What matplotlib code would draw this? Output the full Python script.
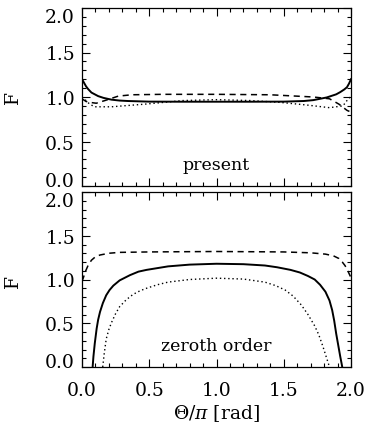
import numpy as np
import matplotlib
matplotlib.use("Agg")
import matplotlib.pyplot as plt
from matplotlib.ticker import MultipleLocator, FormatStrFormatter

plt.rcParams['font.family'] = ['DejaVu Serif']
plt.rcParams['mathtext.fontset'] = 'dejavuserif'

# ---- Data: top panel ("present") ----
top_solid_x = [0.0, 0.015, 0.03, 0.045, 0.07, 0.095, 0.12, 0.16, 0.22, 0.28, 0.34, 0.5, 0.75, 1.0,
               1.25, 1.5, 1.65, 1.72, 1.77, 1.82, 1.86, 1.89, 1.92, 1.95, 1.97, 1.985, 2.0]
top_solid_y = [1.20, 1.16, 1.12, 1.09, 1.05, 1.03, 1.01, 0.99, 0.97, 0.96, 0.955, 0.948, 0.947, 0.947,
               0.947, 0.948, 0.955, 0.965, 0.98, 0.995, 1.015, 1.03, 1.055, 1.085, 1.11, 1.15, 1.20]

top_dash_x = [0.0, 0.03, 0.057, 0.106, 0.17, 0.27, 0.37, 0.6, 1.0, 1.4, 1.72, 1.84, 1.91, 1.97, 2.0]
top_dash_y = [0.98, 0.95, 0.94, 0.93, 0.96, 1.01, 1.025, 1.03, 1.03, 1.025, 1.00, 0.98, 0.92, 0.85, 0.83]

top_dot_x = [0.0, 0.03, 0.057, 0.094, 0.22, 0.47, 0.75, 1.0, 1.25, 1.47, 1.67, 1.84, 1.94, 1.98, 2.0]
top_dot_y = [1.00, 0.96, 0.92, 0.89, 0.89, 0.92, 0.96, 0.97, 0.96, 0.94, 0.91, 0.88, 0.90, 0.98, 1.01]

# ---- Data: bottom panel ("zeroth order") ----
bot_solid_x = [0.079, 0.085, 0.095, 0.109, 0.12, 0.134, 0.155, 0.18, 0.205, 0.233, 0.28, 0.357, 0.42,
               0.48, 0.56, 0.64, 0.8, 1.0, 1.2, 1.36, 1.45, 1.55, 1.62, 1.68, 1.73, 1.77, 1.81, 1.84,
               1.86, 1.875, 1.89, 1.905, 1.92, 1.935]
bot_solid_y = [0.0, 0.12, 0.27, 0.44, 0.54, 0.63, 0.73, 0.82, 0.88, 0.93, 0.99, 1.05, 1.09,
               1.11, 1.13, 1.15, 1.17, 1.18, 1.175, 1.16, 1.14, 1.11, 1.08, 1.04, 1.00, 0.94, 0.86, 0.76,
               0.65, 0.53, 0.38, 0.25, 0.12, 0.0]

bot_dash_x = [0.0, 0.01, 0.025, 0.045, 0.07, 0.1, 0.134, 0.2, 0.28, 0.5, 1.0, 1.5, 1.7, 1.81, 1.87,
              1.91, 1.935, 1.955, 1.97, 1.985, 2.0]
bot_dash_y = [0.98, 1.02, 1.09, 1.16, 1.22, 1.26, 1.28, 1.30, 1.31, 1.315, 1.32, 1.315, 1.305, 1.29, 1.27,
              1.24, 1.20, 1.16, 1.12, 1.07, 1.02]

bot_dot_x = [0.154, 0.165, 0.18, 0.2, 0.22, 0.25, 0.28, 0.33, 0.38, 0.43, 0.48, 0.56, 0.64, 0.8, 1.0,
             1.2, 1.36, 1.44, 1.51, 1.57, 1.63, 1.68, 1.73, 1.76, 1.79, 1.815, 1.84]
bot_dot_y = [0.0, 0.15, 0.32, 0.43, 0.51, 0.61, 0.69, 0.77, 0.83, 0.87, 0.90, 0.94, 0.97, 1.00, 1.015,
             1.005, 0.97, 0.93, 0.88, 0.81, 0.71, 0.60, 0.47, 0.37, 0.24, 0.12, 0.0]

ticks = [0.0, 0.5, 1.0, 1.5, 2.0]

W, H = 369, 435
fig = plt.figure(figsize=(W / 100, H / 100), dpi=100)

def px_axes(left, top, right, bottom):
    return fig.add_axes([left / W, 1 - bottom / H, (right - left) / W, (bottom - top) / H])

ax1 = px_axes(82, 9, 351, 187)
ax2 = px_axes(82, 193, 351, 368)

lw_s, lw_d, lw_o = 1.4, 1.1, 1.0
ax1.plot(top_solid_x, top_solid_y, color='black', lw=lw_s, ls='-')
ax1.plot(top_dash_x, top_dash_y, color='black', lw=lw_d, ls=(0, (4, 3)))
ax1.plot(top_dot_x, top_dot_y, color='black', lw=lw_o, ls=(0, (1, 2)))

ax2.plot(bot_solid_x, bot_solid_y, color='black', lw=lw_s, ls='-')
ax2.plot(bot_dash_x, bot_dash_y, color='black', lw=lw_d, ls=(0, (4, 3)))
ax2.plot(bot_dot_x, bot_dot_y, color='black', lw=lw_o, ls=(0, (1, 2)))

for ax, yc in ((ax1, 98), (ax2, 281)):
    ax.set_xlim(0, 2.0)
    ax.set_ylim(0, 2.0)
    ax.set_xticks(ticks)
    ax.set_yticks(ticks)
    ax.xaxis.set_minor_locator(MultipleLocator(0.1))
    ax.yaxis.set_minor_locator(MultipleLocator(0.1))
    ax.tick_params(which='both', direction='in', top=True, right=True, width=0.8)
    ax.tick_params(which='major', length=6, labelsize=13.5)
    ax.tick_params(which='minor', length=3)
    ax.tick_params(axis='x', pad=10)
    ax.tick_params(axis='y', pad=5)
    for s in ax.spines.values():
        s.set_linewidth(0.9)
    ax.yaxis.set_major_formatter(FormatStrFormatter('%.1f'))
    ax.xaxis.set_major_formatter(FormatStrFormatter('%.1f'))
    fig.canvas.draw()
    ylabs = ax.get_yticklabels()
    ylabs[0].set_va('baseline')
    ylabs[-1].set_va('top')
    fig.text(13 / W, 1 - yc / H, 'F', rotation=90, ha='center', va='center', fontsize=13.5)

ax1.tick_params(axis='x', labelbottom=False)
ax1.text(1.0, 0.24, 'present', ha='center', va='center', fontsize=12.5)
ax2.text(1.0, 0.24, 'zeroth order', ha='center', va='center', fontsize=12.5)
ax2.set_xlabel(r'$\Theta/\pi$ [rad]', fontsize=13.5, labelpad=2)

fig.savefig('out.png', dpi=100)
